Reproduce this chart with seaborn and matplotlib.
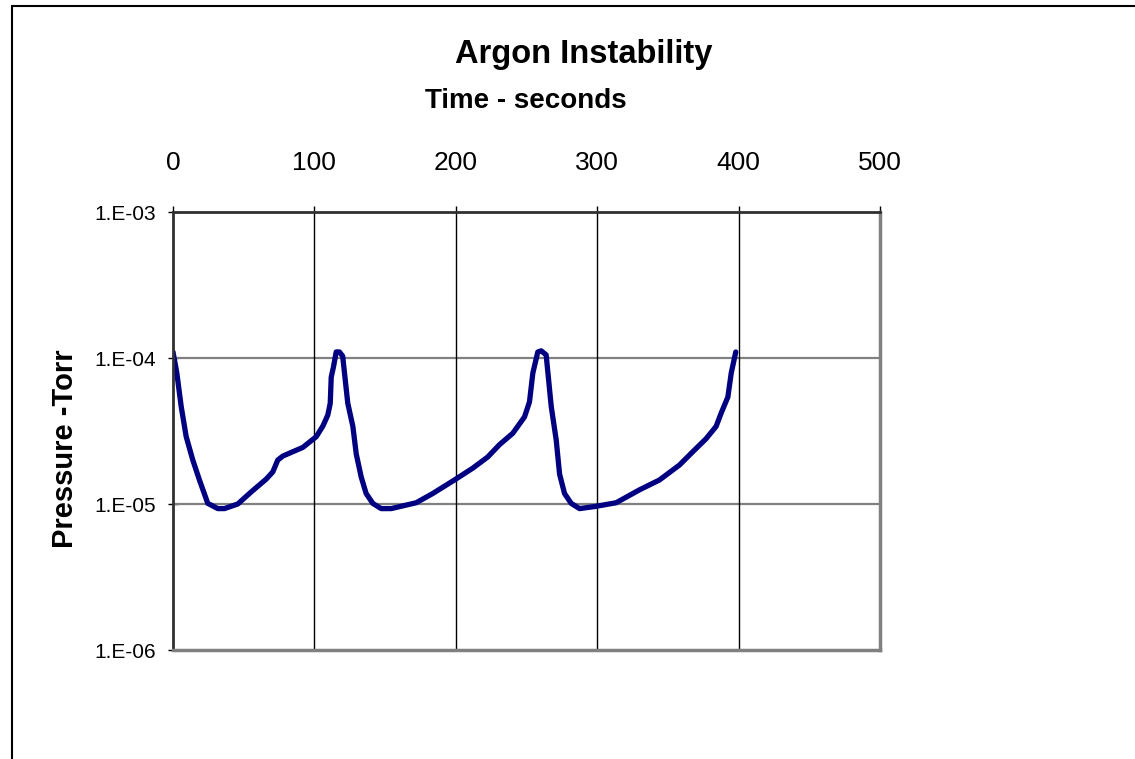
import numpy as np
import matplotlib
matplotlib.use('Agg')
import matplotlib.pyplot as plt
import seaborn as sns
from matplotlib.patches import Rectangle
from matplotlib.ticker import FuncFormatter, NullLocator

# data (time in s, pressure in Torr)
time_s = [0, 2.7, 5.8, 9.3, 14, 18.7, 24.6, 31.7, 36.4, 45.8,
          55.3, 65.9, 70.6, 74.1, 77.7, 84.7, 91.8, 101.3, 106, 109.5,
          111.2, 111.9, 113.5, 115.4, 117.7, 120, 123.6, 127.2, 129.6, 133.1,
          136.6, 141.3, 147.2, 154.3, 172, 183.7, 199, 212, 222.6, 230.9,
          240.3, 248.6, 252.1, 254.5, 258, 260.4, 263.9, 267.5, 271, 273.4,
          276.9, 281.6, 287.5, 298.1, 313.4, 329.9, 344, 358.2, 367.6, 377,
          384.1, 387.7, 392.4, 394.8, 398]
pressure_torr = [1.1e-4, 7.9e-5, 4.65e-5, 2.9e-5, 2.0e-5, 1.46e-5, 1.01e-5, 9.3e-6, 9.3e-6, 1.0e-5,
                 1.21e-5, 1.48e-5, 1.66e-5, 2.0e-5, 2.13e-5, 2.28e-5, 2.44e-5, 2.89e-5, 3.42e-5, 4.07e-5,
                 4.9e-5, 7.4e-5, 8.7e-5, 1.10e-4, 1.10e-4, 1.03e-4, 4.9e-5, 3.4e-5, 2.2e-5, 1.53e-5,
                 1.18e-5, 1.01e-5, 9.3e-6, 9.3e-6, 1.02e-5, 1.18e-5, 1.46e-5, 1.76e-5, 2.1e-5, 2.55e-5,
                 3.05e-5, 3.95e-5, 5.0e-5, 7.9e-5, 1.10e-4, 1.12e-4, 1.05e-4, 4.65e-5, 2.75e-5, 1.6e-5,
                 1.18e-5, 1.01e-5, 9.3e-6, 9.6e-6, 1.02e-5, 1.25e-5, 1.46e-5, 1.85e-5, 2.28e-5, 2.8e-5,
                 3.4e-5, 4.2e-5, 5.4e-5, 7.9e-5, 1.10e-4]
x_ticks = [0, 100, 200, 300, 400, 500]
y_ticks = [1e-6, 1e-5, 1e-4, 1e-3]

sns.set_style('white')
plt.rcParams['font.family'] = ['Liberation Sans', 'DejaVu Sans']
plt.rcParams['text.color'] = 'black'
plt.rcParams['xtick.color'] = 'black'
plt.rcParams['ytick.color'] = 'black'

fig = plt.figure(figsize=(11.35, 7.59), dpi=100)
ax = fig.add_axes([173 / 1135, 1 - 650 / 759, 707 / 1135, 438 / 759])

sns.lineplot(x=time_s, y=pressure_torr, ax=ax, color='#000080', linewidth=3.8,
             sort=False, estimator=None, solid_capstyle='round', solid_joinstyle='round')

ax.set_yscale('log')
ax.set_xlim(0, 500)
ax.set_ylim(1e-6, 1e-3)
ax.set_xticks(x_ticks)
ax.set_yticks(y_ticks)
ax.yaxis.set_minor_locator(NullLocator())
ax.yaxis.set_major_formatter(FuncFormatter(lambda v, p: '1.E-%02d' % int(round(-np.log10(v)))))

# x axis on top, like the Excel original
ax.xaxis.tick_top()
ax.tick_params(axis='x', top=True, bottom=False, labeltop=True, labelbottom=False,
               direction='out', length=4, width=1, color='black', pad=23, labelsize=19,
               labelcolor='black')
ax.tick_params(axis='y', left=True, direction='inout', length=7, width=1, color='black',
               pad=9, labelsize=15, labelcolor='black')

# grid lines
for yv in y_ticks[1:3]:
    ax.axhline(yv, color='#808080', lw=1.6, zorder=1)
for xv in x_ticks[1:5]:
    ax.axvline(xv, color='black', lw=1.0, zorder=1)

ax.spines['top'].set_color('#303030')
ax.spines['top'].set_linewidth(2)
ax.spines['left'].set_color('#303030')
ax.spines['left'].set_linewidth(2)
ax.spines['right'].set_color('#808080')
ax.spines['right'].set_linewidth(2.5)
ax.spines['bottom'].set_color('#808080')
ax.spines['bottom'].set_linewidth(2.5)
ax.set_xlabel('')
ax.set_ylabel('')

fig.text(584 / 1135, 1 - 55 / 759, 'Argon Instability', ha='center', va='center',
         fontsize=23.5, fontweight='bold', color='black')
fig.text(526 / 1135, 1 - 101 / 759, 'Time - seconds', ha='center', va='center',
         fontsize=20, fontweight='bold', color='black')
fig.text(65 / 1135, 1 - 449 / 759, 'Pressure -Torr', ha='center', va='center',
         rotation=90, fontsize=21, fontweight='bold', color='black')

# chart-area frame, cut off at right and bottom
fig.patches.append(Rectangle((12 / 1135, -0.1), 1.2, 1.1 - 6 / 759, transform=fig.transFigure,
                             fill=False, edgecolor='black', linewidth=1.5))

fig.savefig('out.png', dpi=100)
